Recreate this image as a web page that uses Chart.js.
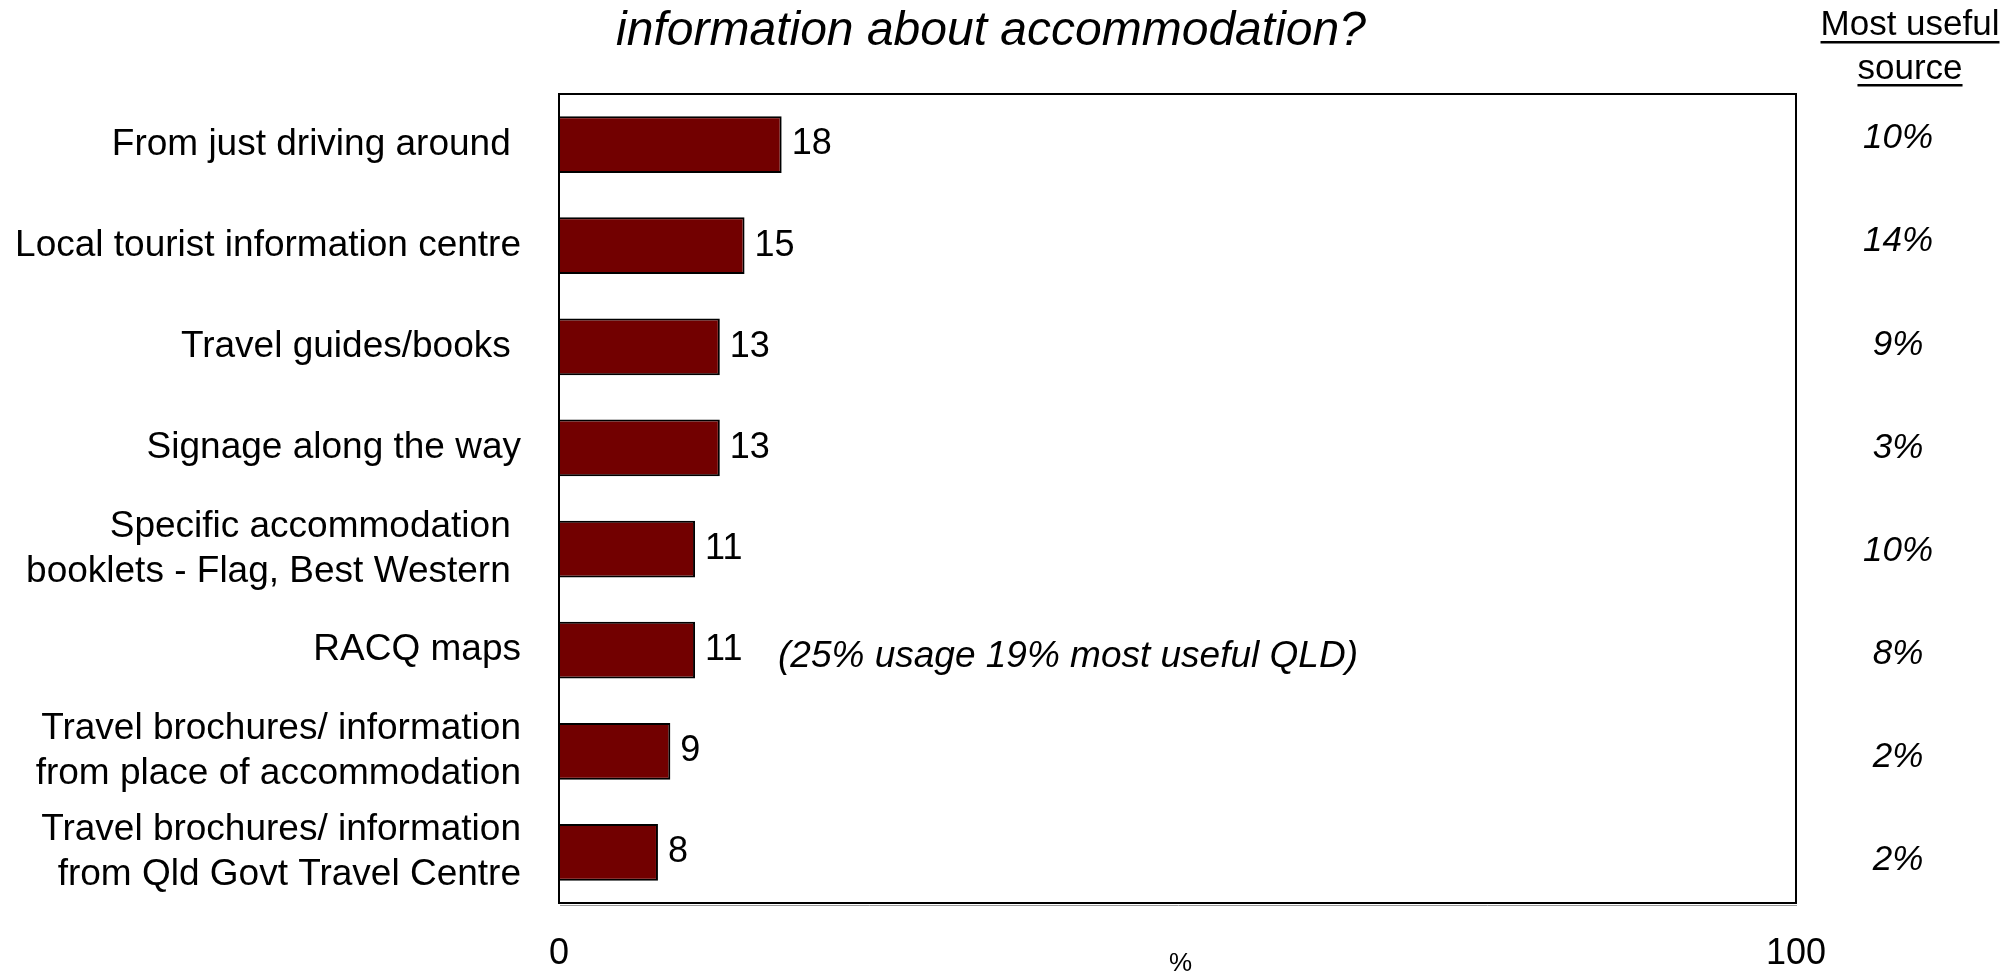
<!DOCTYPE html>
<html>
<head>
<meta charset="utf-8">
<script src="https://cdn.jsdelivr.net/npm/chart.js@4.4.1/dist/chart.umd.min.js"></script>
<style>
  html, body { margin: 0; padding: 0; background: #fff; }
  #wrap { width: 2009px; height: 971px; position: relative; }
</style>
</head>
<body>
<div id="wrap"><canvas id="chartFuentes"></canvas></div>
<script>
const FONT = '"Liberation Sans", Arial, sans-serif';

// --- datos ---
const categorias = [
    'From just driving around ',
    'Local tourist information centre',
    'Travel guides/books ',
    'Signage along the way',
    ['Specific accommodation ', 'booklets - Flag, Best Western '],
    'RACQ maps',
    ['Travel brochures/ information', 'from place of accommodation'],
    ['Travel brochures/ information', 'from Qld Govt Travel Centre']
];
const usoPct = [18, 15, 13, 13, 11, 11, 9, 8];
const masUtil = ['10%', '14%', '9%', '3%', '10%', '8%', '2%', '2%'];
const ejeX = [0, 100];
const titulo = 'information about accommodation?';
const encabezado = ['Most useful', 'source'];
const nota = '(25% usage 19% most useful QLD)';

// Texto extra: caja, etiquetas de valor, columna derecha, titulo y nota
const extras = {
    id: 'extras',
    afterDatasetsDraw(chart) {
        const { ctx, chartArea: a, scales: { x, y } } = chart;
        const medio = (a.top + a.bottom) / 2;
        ctx.save();

        // marco del area del grafico
        ctx.strokeStyle = '#000';
        ctx.lineWidth = 2;
        ctx.strokeRect(a.left, a.top, a.right - a.left, a.bottom - a.top);
        ctx.strokeStyle = '#9a9a9a';
        ctx.lineWidth = 1;
        ctx.beginPath();
        ctx.moveTo(a.left + 1, a.bottom + 2.5);
        ctx.lineTo(a.right + 1, a.bottom + 2.5);
        ctx.stroke();

        // valores al final de cada barra
        ctx.fillStyle = '#000';
        ctx.font = `36px ${FONT}`;
        ctx.textAlign = 'left';
        ctx.textBaseline = 'middle';
        usoPct.forEach((v, i) => {
            ctx.fillText(String(v), x.getPixelForValue(v) + 10, y.getPixelForValue(i));
        });

        // columna "Most useful source" (un poco mas espaciada que las barras)
        ctx.font = `italic 35px ${FONT}`;
        ctx.textAlign = 'center';
        masUtil.forEach((t, i) => {
            const yc = medio + (y.getPixelForValue(i) - medio) * 1.02 + 1;
            ctx.fillText(t, 1898, yc);
        });

        ctx.font = `35px ${FONT}`;
        ctx.textBaseline = 'alphabetic';
        [[encabezado[0], 35, 42], [encabezado[1], 79, 85]].forEach(([t, base, sub]) => {
            ctx.fillText(t, 1910, base);
            const w = ctx.measureText(t).width;
            ctx.fillRect(1910 - w / 2, sub - 1, w, 2.5);
        });

        // titulo (segunda linea de la pregunta)
        ctx.font = `italic 48px ${FONT}`;
        ctx.fillText(titulo, 991, 45);

        // nota sobre RACQ
        ctx.font = `italic 37px ${FONT}`;
        ctx.textAlign = 'left';
        ctx.textBaseline = 'middle';
        ctx.fillText(nota, a.left + 219, y.getPixelForValue(5) + 7);

        // unidad del eje x
        ctx.font = `26px ${FONT}`;
        ctx.textAlign = 'center';
        ctx.fillText('%', (a.left + a.right) / 2 + 3, 964);

        ctx.restore();
    }
};

new Chart(document.getElementById('chartFuentes'), {
    type: 'bar',
    data: {
        labels: categorias,
        datasets: [{
            data: usoPct,
            backgroundColor: '#720000',
            borderColor: '#000',
            borderWidth: 2,
            barPercentage: 0.56,
            categoryPercentage: 1
        }]
    },
    options: {
        indexAxis: 'y',
        responsive: true,
        maintainAspectRatio: false,
        animation: false,
        layout: { padding: { top: 94, right: 213, bottom: 0, left: 0 } },
        plugins: { legend: { display: false }, tooltip: { enabled: false }, title: { display: false } },
        scales: {
            x: {
                type: 'linear', position: 'bottom',
                min: ejeX[0], max: ejeX[1],
                grid: { display: false, drawTicks: false },
                border: { display: false },
                ticks: {
                    stepSize: ejeX[1] - ejeX[0], maxRotation: 0, padding: 29,
                    color: '#000', font: { family: FONT, size: 36 }
                },
                afterFit: s => { s.height = 68; }
            },
            y: {
                grid: { display: false, drawTicks: false },
                border: { display: false },
                ticks: {
                    padding: 38, color: '#000',
                    font: { family: FONT, size: 37, lineHeight: 1.22 }
                },
                afterFit: s => { s.width = 559; }
            }
        }
    },
    plugins: [extras]
});
</script>
</body>
</html>
